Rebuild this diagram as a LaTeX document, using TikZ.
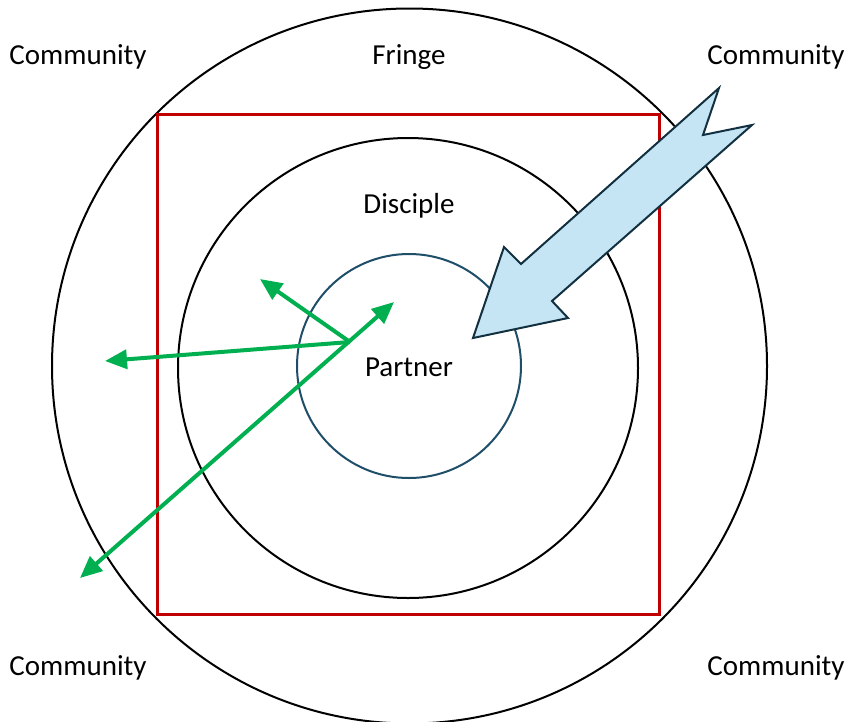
\documentclass[tikz,border=0pt]{standalone}
\usepackage{fontspec}
\setmainfont{Carlito}
\usetikzlibrary{arrows.meta}
\definecolor{redbox}{HTML}{C00000}
\definecolor{grn}{HTML}{00B050}
\definecolor{arrfill}{HTML}{C5E5F4}
\definecolor{arrline}{HTML}{12303F}
\definecolor{innerc}{HTML}{1F4E69}
\tikzset{
  lbl/.style={font=\fontsize{29}{34}\selectfont, inner sep=0pt},
  ring/.style={draw=black, line width=2pt},
  garrow/.style={draw=grn, line width=4pt, -{Triangle[length=22pt,width=19pt]}},
  gdouble/.style={draw=grn, line width=4pt, {Triangle[length=22pt,width=19pt]}-{Triangle[length=22pt,width=19pt]}},
}
\begin{document}
\begin{tikzpicture}[x=1pt,y=-1pt]
\useasboundingbox (0,0) rectangle (848,721);
% circles
\draw[ring] (409.5,366) circle (357.5);
\draw[redbox, line width=3pt] (157,114) rectangle (659,614);
\draw[ring] (408,368) circle (230);
\draw[draw=innerc, line width=2pt] (409,366) circle (112);
% labels
\node[lbl] (c1) at (78,57) {Community};
\node[lbl] (c2) at (776,57) {Community};
\node[lbl] (c3) at (78,668) {Community};
\node[lbl] (c4) at (776,668) {Community};
\node[lbl] (fr) at (409,57) {Fringe};
\node[lbl] (di) at (409,206) {Disciple};
\node[lbl] (pa) at (409,367) {Partner};
% green arrows
\coordinate (o) at (350,342);
\coordinate (g1) at (260,279);
\coordinate (g2) at (105,361);
\coordinate (g3) at (394,302);
\coordinate (g4) at (80,578);
\draw[garrow] (o) -- (g1);
\draw[garrow] (o) -- (g2);
\draw[gdouble] (g4) -- (g3);
% big blue arrow
\draw[fill=arrfill, draw=arrline, line width=2pt, line join=miter]
  (719,88) -- (703,135) -- (752,125) -- (552,301) -- (568,318) -- (473,338)
  -- (504,247) -- (521,264) -- cycle;
\end{tikzpicture}
\end{document}
